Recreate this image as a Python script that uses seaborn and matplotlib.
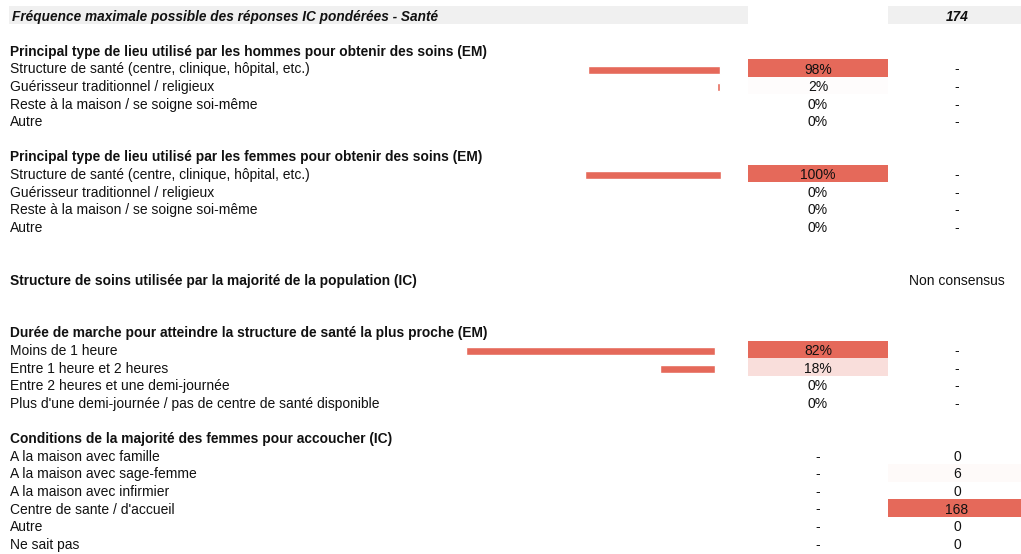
import matplotlib.pyplot as plt
import seaborn as sns

# === DATA ===
TITLE = "Fréquence maximale possible des réponses IC pondérées - Santé"
TITLE_VALUE = 174

MEN_HEADER = "Principal type de lieu utilisé par les hommes pour obtenir des soins (EM)"
WOMEN_HEADER = "Principal type de lieu utilisé par les femmes pour obtenir des soins (EM)"
PLACE_LABELS = [
    "Structure de santé (centre, clinique, hôpital, etc.)",
    "Guérisseur traditionnel / religieux",
    "Reste à la maison / se soigne soi-même",
    "Autre",
]
MEN_PCT = [98, 2, 0, 0]
WOMEN_PCT = [100, 0, 0, 0]

STRUCT_HEADER = "Structure de soins utilisée par la majorité de la population (IC)"
STRUCT_ANSWER = "Non consensus"

WALK_HEADER = "Durée de marche pour atteindre la structure de santé la plus proche (EM)"
WALK_LABELS = [
    "Moins de 1 heure",
    "Entre 1 heure et 2 heures",
    "Entre 2 heures et une demi-journée",
    "Plus d'une demi-journée / pas de centre de santé disponible",
]
WALK_PCT = [82, 18, 0, 0]

BIRTH_HEADER = "Conditions de la majorité des femmes pour accoucher (IC)"
BIRTH_LABELS = [
    "A la maison avec famille",
    "A la maison avec sage-femme",
    "A la maison avec infirmier",
    "Centre de sante / d'accueil",
    "Autre",
    "Ne sait pas",
]
BIRTH_COUNTS = [0, 6, 0, 168, 0, 0]

# === STYLE ===
sns.set_theme(style="white")
plt.rcParams['font.family'] = ['Liberation Sans', 'DejaVu Sans']
FS = 10
FS_BOLD = 9.9
RED = "#E5695A"
GREY = "#F0F0F0"
ROW0 = 15.2
ROW_H = 17.6
COL2 = (748, 888)
COL3 = (888, 1021)
X2 = 818   # centre of value column
X3 = 957   # centre of last column
cmap = sns.blend_palette(["#FFFFFF", RED], as_cmap=True)

fig = plt.figure(figsize=(10.21, 5.54), dpi=100)
ax = fig.add_axes([0, 0, 1, 1])
ax.set_xlim(0, 1021)
ax.set_ylim(554, 0)
ax.axis("off")


def yc(row):
    return ROW0 + row * ROW_H


def cell(row, col, color):
    ax.add_patch(plt.Rectangle((col[0], yc(row) - ROW_H / 2), col[1] - col[0], ROW_H,
                               color=color, lw=0, zorder=1))


def text(x, row, s, ha="left", size=FS, **kw):
    ax.text(x, yc(row), s, ha=ha, va="center_baseline", fontsize=size, color="#111111", zorder=3, **kw)


# title row
ax.add_patch(plt.Rectangle((9, yc(0) - 9), COL2[0] - 9, 18, color=GREY, lw=0))
ax.add_patch(plt.Rectangle((COL3[0], yc(0) - 9), COL3[1] - COL3[0], 18, color=GREY, lw=0))
text(12, 0, TITLE, size=9.8, fontweight="bold", fontstyle="italic")
text(X3, 0, str(TITLE_VALUE), ha="center", size=9.8, fontweight="bold", fontstyle="italic")


def pct_section(start, header, labels, values, bar_right, px_per_pct):
    text(10, start, header, size=FS_BOLD, fontweight="bold")
    vmax = max(values)
    rows = [start + 1 + i for i in range(len(values))]
    widths = [v * px_per_pct for v in values]
    ax.barh([yc(r) + 1.5 for r in rows], widths, left=[bar_right - w for w in widths],
            height=8, color=RED, zorder=2)
    for r, lab, v in zip(rows, labels, values):
        text(10, r, lab)
        if v > 0:
            cell(r, COL2, cmap(v / vmax))
        text(X2, r, f"{v}%", ha="center")
        text(X3, r, "-", ha="center")


pct_section(2, MEN_HEADER, PLACE_LABELS, MEN_PCT, 720, 1.35)
pct_section(8, WOMEN_HEADER, PLACE_LABELS, WOMEN_PCT, 721, 1.36)

text(10, 15, STRUCT_HEADER, size=FS_BOLD, fontweight="bold")
text(X3, 15, STRUCT_ANSWER, ha="center")

pct_section(18, WALK_HEADER, WALK_LABELS, WALK_PCT, 715, 3.04)

text(10, 24, BIRTH_HEADER, size=FS_BOLD, fontweight="bold")
cmax = max(BIRTH_COUNTS)
for i, (lab, c) in enumerate(zip(BIRTH_LABELS, BIRTH_COUNTS)):
    r = 25 + i
    text(10, r, lab)
    text(X2, r, "-", ha="center")
    if c > 0:
        cell(r, COL3, cmap(c / cmax))
    text(X3, r, str(c), ha="center")

fig.savefig("out.png", dpi=100)
